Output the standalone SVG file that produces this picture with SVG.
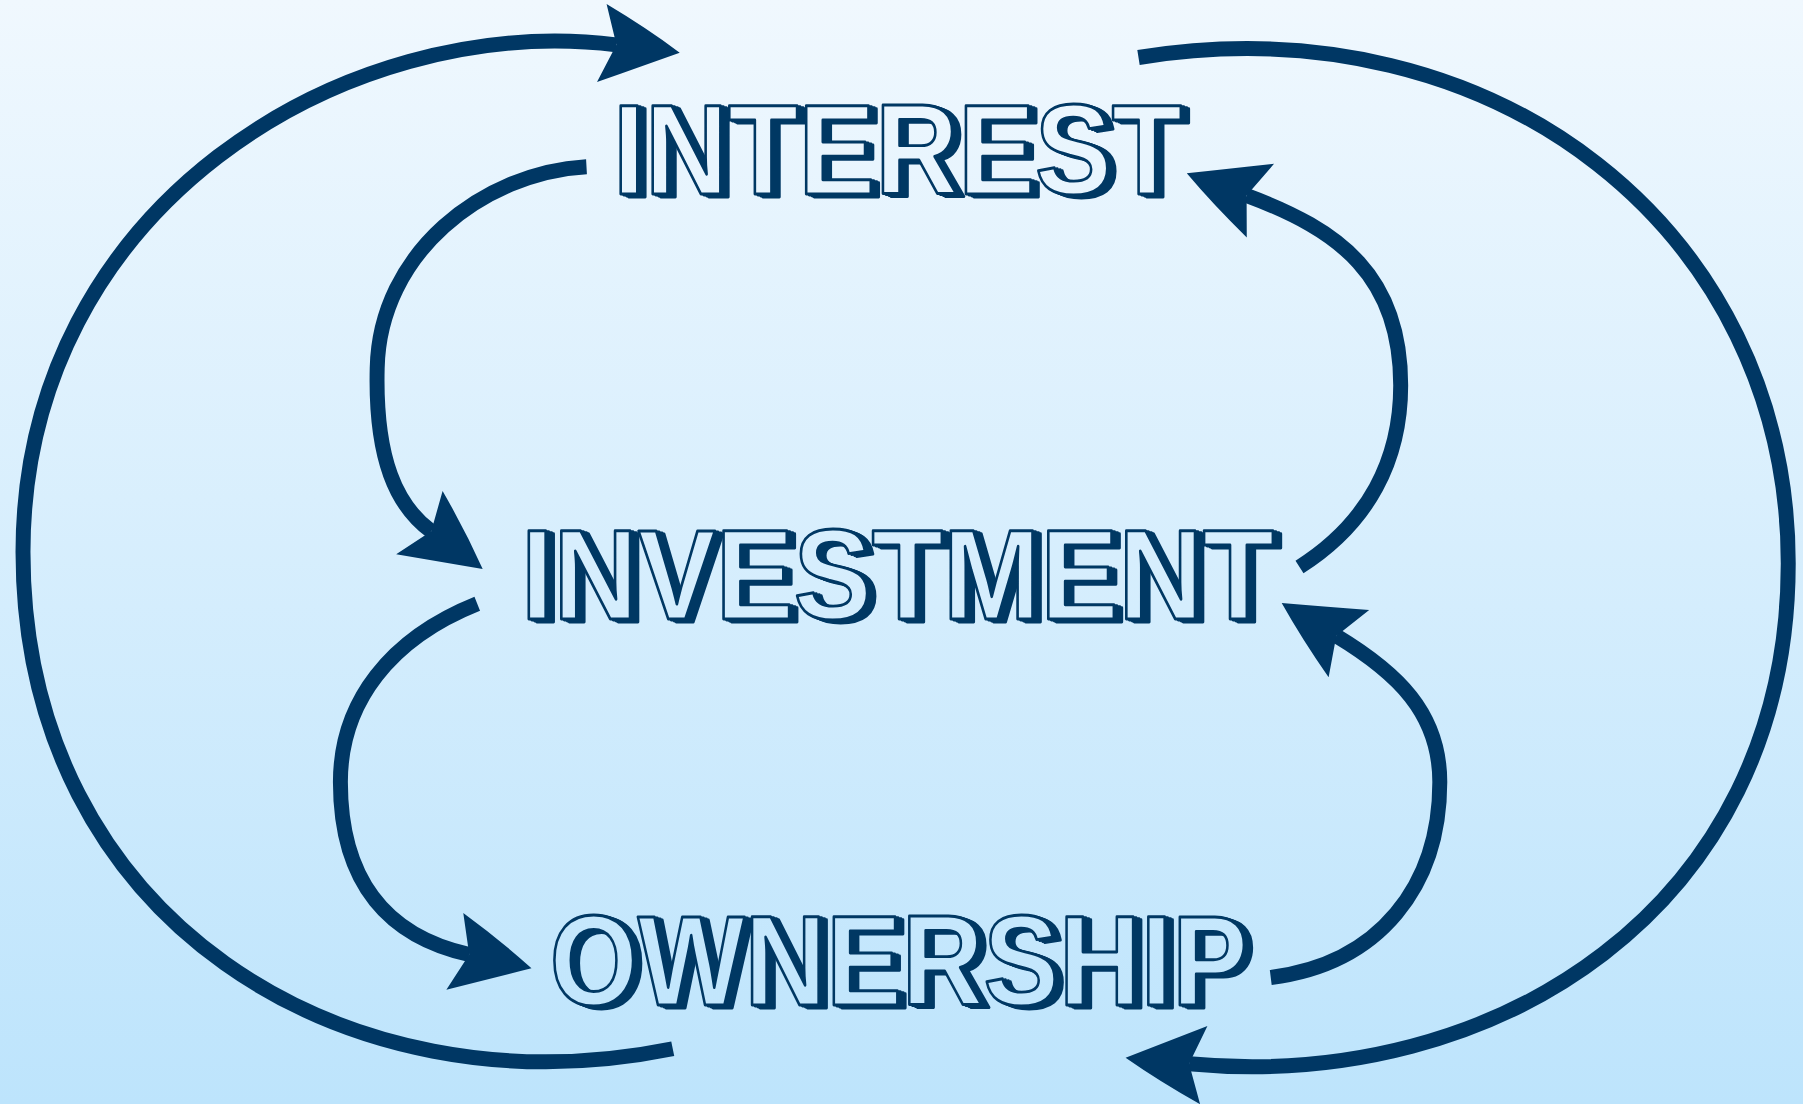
<svg xmlns="http://www.w3.org/2000/svg" width="1803" height="1104" viewBox="0 0 1803 1104">
<defs>
<linearGradient id="bg" gradientUnits="userSpaceOnUse" x1="0" y1="0" x2="0" y2="960">
<stop offset="0" stop-color="#f0f8fe"/>
<stop offset="1" stop-color="#bde4fc"/>
</linearGradient>
<filter id="extrude" x="-5%" y="-10%" width="115%" height="130%">
<feFlood flood-color="#003764" result="c"/>
<feOffset in="SourceAlpha" dx="2.5" dy="0.8" result="o1"/>
<feOffset in="SourceAlpha" dx="5" dy="1.6" result="o2"/>
<feOffset in="SourceAlpha" dx="7" dy="2.3" result="o3"/>
<feMerge result="m"><feMergeNode in="o1"/><feMergeNode in="o2"/><feMergeNode in="o3"/></feMerge>
<feComposite in="c" in2="m" operator="in" result="sh"/>
<feMerge><feMergeNode in="sh"/><feMergeNode in="SourceGraphic"/></feMerge>
</filter>
<marker id="ah" markerUnits="userSpaceOnUse" markerWidth="80" markerHeight="80" viewBox="-10 -35 75 70" refX="6" refY="0" orient="auto" overflow="visible">
<path d="M-6,-32 Q28,-17 58,0 Q28,15 -6,32 L6,0 Z" fill="#003764"/>
</marker>
<style>
.conn{fill:none;stroke:#003764;stroke-width:13;stroke-linecap:butt;marker-end:url(#ah)}
.face{font-family:"Liberation Sans",Arial,sans-serif;font-weight:bold;font-size:112px;fill:url(#bg);stroke:#003764;stroke-width:2.5;stroke-linejoin:round;filter:url(#extrude)}
</style>
</defs>
<g transform="scale(1.15)">
<rect x="0" y="0" width="1568" height="960" fill="url(#bg)"/>
<g id="connectors">
<path class="conn" d="M585,912 C300,970 20,800 20,480 C20,180 300,10 536,39"/>
<path class="conn" d="M990,50 C1300,0 1555,200 1555,490 C1555,790 1300,950 1034,925"/>
<path class="conn" d="M510,145 C420,150 330,220 328,320 C326,400 345,440 375,462"/>
<path class="conn" d="M1130,493 C1190,455 1218,400 1218,335 C1218,240 1165,200 1084,170"/>
<path class="conn" d="M415,525 C340,555 296,610 296,680 C296,770 340,815 408,830"/>
<path class="conn" d="M1105,850 C1200,838 1252,770 1252,680 C1252,620 1215,585 1162,553"/>
</g>
<g id="node-interest">
<text class="face" x="533" y="169" textLength="495" lengthAdjust="spacingAndGlyphs">INTEREST</text>
</g>
<g id="node-investment">
<text class="face" x="453" y="538" textLength="655" lengthAdjust="spacingAndGlyphs">INVESTMENT</text>
</g>
<g id="node-ownership">
<text class="face" x="478" y="874" textLength="607" lengthAdjust="spacingAndGlyphs">OWNERSHIP</text>
</g>
</g>
</svg>
